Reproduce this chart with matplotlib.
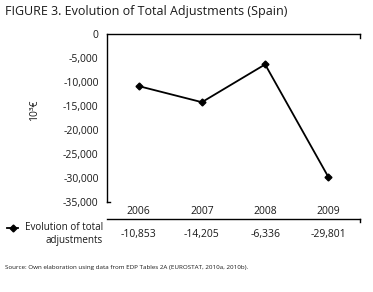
import numpy as np
import matplotlib.pyplot as plt
from matplotlib.lines import Line2D
from matplotlib.transforms import blended_transform_factory

# data
years = ["2006", "2007", "2008", "2009"]
adjustments = [-10853, -14205, -6336, -29801]
value_labels = ["-10,853", "-14,205", "-6,336", "-29,801"]
y_ticks = [0, -5000, -10000, -15000, -20000, -25000, -30000, -35000]

plt.rcParams['font.family'] = ['Open Sans', 'DejaVu Sans']
txt = "#1a1a1a"

W, H = 373, 292
fig = plt.figure(figsize=(W / 100, H / 100), dpi=100)
fig.patch.set_facecolor("white")

# axes box in pixels: left 107, right 360, top 34, bottom 202
ax = fig.add_axes([107 / W, 1 - 202 / H, 253 / W, 168 / H])
x = np.arange(len(years))
ax.plot(x, adjustments, color="black", lw=1.3, marker="D", ms=3.5,
        mfc="black", mec="black")

ax.set_xlim(-0.5, len(years) - 0.5)
ax.set_ylim(-35000, 0)
ax.set_yticks(y_ticks)
ax.set_yticklabels(["0"] + [f"{v:,}" for v in y_ticks[1:]], fontsize=7.5, color=txt)
ax.tick_params(axis="y", length=0, pad=6)
ax.set_xticks([])
for s in ["right", "bottom"]:
    ax.spines[s].set_visible(False)
for s in ["left", "top"]:
    ax.spines[s].set_linewidth(1.0)
    ax.spines[s].set_color("black")

# small tick at the right end of the top axis and at the bottom of the y axis
fig.add_artist(Line2D([360 / W, 360 / W], [1 - 34 / H, 1 - 38 / H], color="black", lw=1.0))
fig.add_artist(Line2D([107 / W, 110 / W], [1 - 202 / H, 1 - 202 / H], color="black", lw=1.0))

# y label
fig.text(35 / W, 1 - 110 / H, "10³€", rotation=90, ha="center", va="center",
         fontsize=7.5, color=txt)

# data table under the chart
tr = blended_transform_factory(ax.transData, fig.transFigure)
for i, (yr, lab) in enumerate(zip(years, value_labels)):
    ax.text(i, 1 - 212 / H, yr, transform=tr, ha="center", va="center",
            fontsize=7.5, color=txt, clip_on=False)
    ax.text(i, 1 - 235 / H, lab, transform=tr, ha="center", va="center",
            fontsize=7.5, color=txt, clip_on=False)
fig.add_artist(Line2D([107 / W, 360 / W], [1 - 219 / H, 1 - 219 / H], color="black", lw=1.0))
fig.add_artist(Line2D([360 / W, 360 / W], [1 - 219 / H, 1 - 222 / H], color="black", lw=1.0))

# legend key
fig.add_artist(Line2D([7 / W, 18 / W], [1 - 228 / H, 1 - 228 / H], color="black", lw=1.3))
fig.add_artist(Line2D([12.5 / W], [1 - 228 / H], color="black", marker="D", ms=3.5, lw=0))
fig.text(103 / W, 1 - 228 / H, "Evolution of total", ha="right", va="center",
         fontsize=7.1, color=txt)
fig.text(103 / W, 1 - 240 / H, "adjustments", ha="right", va="center",
         fontsize=7.1, color=txt)

# title and source
fig.text(5 / W, 1 - 12 / H, "FIGURE 3. Evolution of Total Adjustments (Spain)",
         ha="left", va="center", fontsize=9, color=txt)
fig.text(5 / W, 1 - 268 / H,
         "Source: Own elaboration using data from EDP Tables 2A (EUROSTAT, 2010a, 2010b).",
         ha="left", va="center", fontsize=4.5, color=txt)

fig.savefig("out.png", dpi=100)
